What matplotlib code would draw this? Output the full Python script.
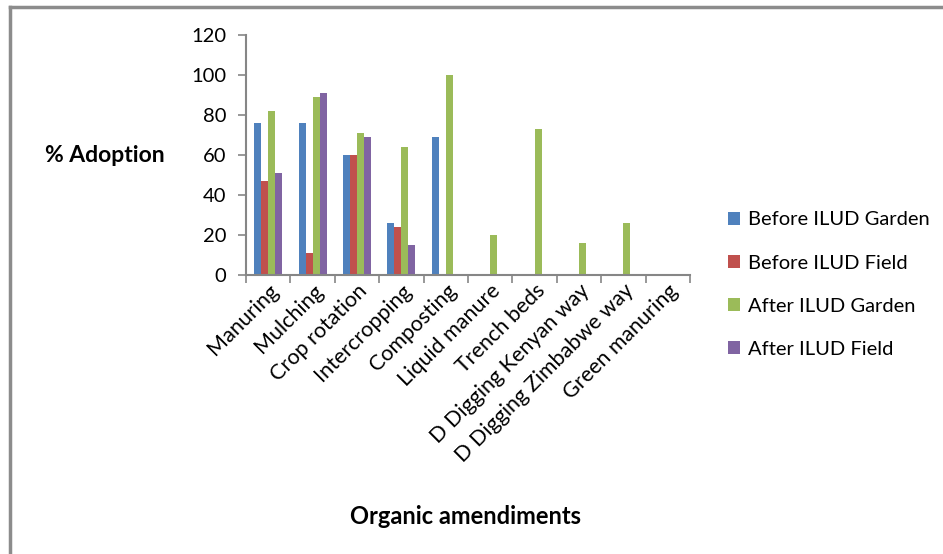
import numpy as np
import matplotlib.pyplot as plt
from matplotlib.lines import Line2D

plt.rcParams["font.family"] = ["Lato", "DejaVu Sans"]

categories = ["Manuring", "Mulching", "Crop rotation", "Intercropping", "Composting",
              "Liquid manure", "Trench beds", "D Digging Kenyan way",
              "D Digging Zimbabwe way", "Green manuring"]
series_names = ["Before ILUD Garden", "Before ILUD Field", "After ILUD Garden", "After ILUD Field"]
before_garden = [76, 76, 60, 26, 69, 0, 0, 0, 0, 0]
before_field = [47, 11, 60, 24, 0, 0, 0, 0, 0, 0]
after_garden = [82, 89, 71, 64, 100, 20, 73, 16, 26, 0]
after_field = [51, 91, 69, 15, 0, 0, 0, 0, 0, 0]
colors = ["#4F81BD", "#C0504D", "#9BBB59", "#8064A2"]

FS = 14.5

fig = plt.figure(figsize=(9.43, 5.54), dpi=100)
ax = fig.add_axes([0.2609, 0.5036, 0.4708, 0.4332])

x = np.arange(len(categories))
w = 0.158
for i, (vals, name, c) in enumerate(zip([before_garden, before_field, after_garden, after_field],
                                         series_names, colors)):
    ax.bar(x + (i - 1.5) * w, vals, width=w, color=c, label=name)

ax.set_xlim(-0.5, len(categories) - 0.5)
ax.set_ylim(0, 120)
ax.set_yticks(range(0, 121, 20))
ax.set_xticks(x)
ax.set_xticklabels(categories, rotation=45, ha="right", va="top", rotation_mode="anchor",
                   fontsize=15.5)
ax.set_xticks(np.arange(-0.5, len(categories)), minor=True)
ax.tick_params(axis="x", which="major", length=0, pad=4)
ax.tick_params(axis="x", which="minor", length=6, width=1.2, color="#868686")
ax.tick_params(axis="y", length=6, width=1.2, color="#868686", labelsize=FS, pad=8)

for side in ["top", "right"]:
    ax.spines[side].set_visible(False)
for side in ["left", "bottom"]:
    ax.spines[side].set_color("#868686")
    ax.spines[side].set_linewidth(1.5)

fig.text(105 / 943, 1 - 156 / 554, "% Adoption", fontsize=16.5, fontweight="bold",
         ha="center", va="center")
fig.text(466 / 943, 1 - 516 / 554, "Organic amendiments", fontsize=17, fontweight="bold",
         ha="center", va="center")

ax.legend(loc="center left", bbox_to_anchor=(1.045, -0.04), frameon=False, fontsize=FS,
          handlelength=0.6, handleheight=0.6, labelspacing=1.3, handletextpad=0.4)

# outer chart border
fig.add_artist(Line2D([10 / 943, 10 / 943], [0, 1 - 7 / 554], color="#8C8C8C", lw=2.5,
                      transform=fig.transFigure))
fig.add_artist(Line2D([10 / 943, 1], [1 - 7 / 554, 1 - 7 / 554], color="#8C8C8C", lw=2.5,
                      transform=fig.transFigure))

fig.savefig("out.png", dpi=100)
